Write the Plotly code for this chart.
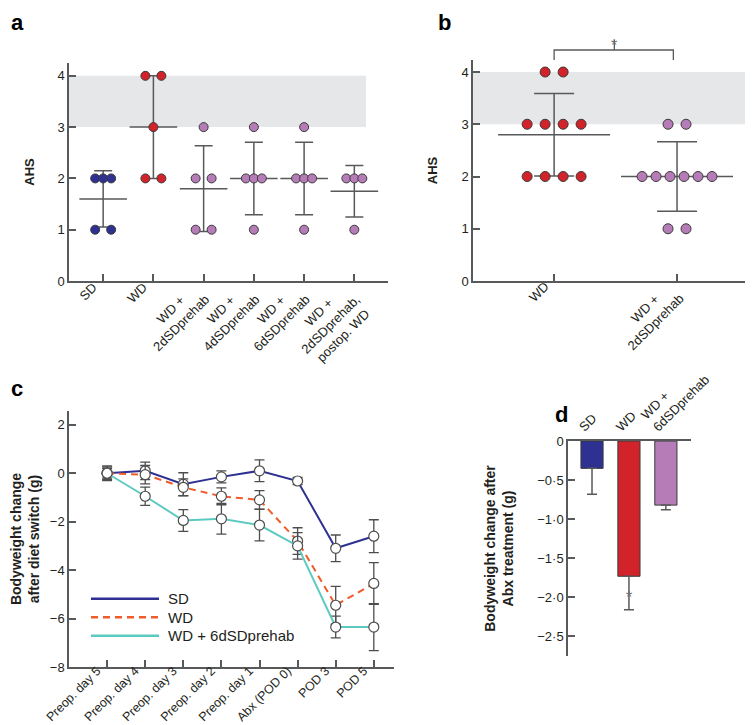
import numpy as np
import plotly.graph_objects as go

W, H = 753, 725

# ---- panel a: AHS per mouse in each diet group
groups_a = ["SD", "WD", "WD +<br>2dSDprehab", "WD +<br>4dSDprehab",
            "WD +<br>6dSDprehab", "WD +<br>2dSDprehab,<br>postop. WD"]
ahs_sd = [2, 2, 2, 1, 1]
ahs_wd = [4, 4, 3, 2, 2]
ahs_wd_2d = [3, 2, 2, 1, 1]
ahs_wd_4d = [3, 2, 2, 2, 1]
ahs_wd_6d = [3, 2, 2, 2, 1]
ahs_wd_2d_postop = [2, 2, 2, 1]

# ---- panel b: pooled WD vs WD + 2dSDprehab
groups_b = ["WD", "WD +<br>2dSDprehab"]
ahs_b_wd = [4, 4, 3, 3, 3, 3, 2, 2, 2, 2]
ahs_b_prehab = [3, 3, 2, 2, 2, 2, 2, 2, 1, 1]

# ---- panel c: bodyweight change after diet switch (g), mean and error
days = ["Preop. day 5", "Preop. day 4", "Preop. day 3", "Preop. day 2",
        "Preop. day 1", "Abx (POD 0)", "POD 3", "POD 5"]
bw_sd = [0.0, 0.1, -0.45, -0.15, 0.1, -0.32, -3.1, -2.6]
bw_sd_err = [0.3, 0.36, 0.47, 0.25, 0.45, 0.15, 0.55, 0.68]
bw_wd = [0.0, -0.06, -0.58, -0.95, -1.1, -2.8, -5.45, -4.55]
bw_wd_err = [0.25, 0.38, 0.35, 0.35, 0.38, 0.55, 0.78, 0.86]
bw_6d = [0.0, -0.95, -1.95, -1.88, -2.14, -3.0, -6.35, -6.35]
bw_6d_err = [0.2, 0.38, 0.45, 0.63, 0.65, 0.55, 0.45, 0.97]

# ---- panel d: bodyweight change after Abx treatment (g)
groups_d = ["SD", "WD", "WD +<br>6dSDprehab"]
abx_change = [-0.35, -1.73, -0.82]
abx_err = [0.33, 0.43, 0.06]
d_ticks = [0, -0.5, -1.0, -1.5, -2.0, -2.5]

NAVY = "#2e3192"
RED = "#d2232a"
PURPLE = "#b67cb7"
ORANGE = "#f15a29"
TEAL = "#5ccac0"
AX = "#58595b"
TXT = "#231f20"
EDGE = "#3a3a3a"
FONT = "Liberation Sans, Arial, sans-serif"


def xp(px):
    return px / W


def yp(py):
    return 1 - py / H


def swarm(values, center, step_px, spread_px, px_per_unit):
    # spread identical scores sideways, like a column scatter plot
    xs, ys = [], []
    for v in sorted(set(values), reverse=True):
        k = values.count(v)
        step = step_px if k == 1 else min(step_px, spread_px / (k - 1))
        for i in range(k):
            xs.append(center + (i - (k - 1) / 2) * step / px_per_unit)
            ys.append(v)
    return xs, ys


def centred(label):
    # angled tick labels are right aligned; pad short lines so they sit centred
    lines = label.split("<br>")
    longest = max(len(s) for s in lines)
    return "<br>".join(s + "\u00a0" * round(0.9 * (longest - len(s))) for s in lines)


fig = go.Figure()

# ---------------- panel a
ahs_a = [ahs_sd, ahs_wd, ahs_wd_2d, ahs_wd_4d, ahs_wd_6d, ahs_wd_2d_postop]
colors_a = [NAVY, RED, PURPLE, PURPLE, PURPLE, PURPLE]
fig.add_trace(go.Scatter(
    x=list(range(len(groups_a))), y=[np.mean(v) for v in ahs_a],
    mode="markers",
    marker=dict(symbol="line-ew", size=34, line=dict(color=AX, width=1.5)),
    error_y=dict(type="data", array=[np.std(v, ddof=1) for v in ahs_a],
                 color=AX, thickness=1.5, width=9),
    xaxis="x", yaxis="y"))
for i, (vals, col) in enumerate(zip(ahs_a, colors_a)):
    xs, ys = swarm(vals, i, 16, 16, 50.3)
    fig.add_trace(go.Scatter(
        x=xs, y=ys, mode="markers",
        marker=dict(size=9, color=col, line=dict(color=EDGE, width=1)),
        xaxis="x", yaxis="y"))

# ---------------- panel b
ahs_b = [ahs_b_wd, ahs_b_prehab]
fig.add_trace(go.Scatter(
    x=[0, 1], y=[np.mean(v) for v in ahs_b],
    mode="markers",
    marker=dict(symbol="line-ew", size=80, line=dict(color=AX, width=1.5)),
    error_y=dict(type="data", array=[np.std(v, ddof=1) for v in ahs_b],
                 color=AX, thickness=1.5, width=20),
    xaxis="x2", yaxis="y2"))
for i, (vals, col) in enumerate(zip(ahs_b, [RED, PURPLE])):
    xs, ys = swarm(vals, i, 18, 70, 123)
    fig.add_trace(go.Scatter(
        x=xs, y=ys, mode="markers",
        marker=dict(size=10, color=col, line=dict(color=EDGE, width=1)),
        xaxis="x2", yaxis="y2"))

# ---------------- panel c
series_c = [("SD", bw_sd, bw_sd_err, NAVY, "solid"),
            ("WD", bw_wd, bw_wd_err, ORANGE, "7px,5px"),
            ("WD + 6dSDprehab", bw_6d, bw_6d_err, TEAL, "solid")]
for name, vals, errs, col, dash in series_c:
    fig.add_trace(go.Scatter(
        x=days, y=vals, name=name, mode="lines+markers",
        line=dict(color=col, width=2, dash=dash),
        marker=dict(size=10, color="white", line=dict(color="#4d4d4d", width=1.2)),
        error_y=dict(type="data", array=errs, color="#4d4d4d", thickness=1.3, width=5),
        xaxis="x3", yaxis="y3"))

# ---------------- panel d
fig.add_trace(go.Bar(
    x=groups_d, y=abx_change, width=0.6,
    marker=dict(color=[NAVY, RED, PURPLE], line=dict(color=EDGE, width=1)),
    error_y=dict(type="data", symmetric=False, array=[0] * len(abx_err),
                 arrayminus=abx_err, color=AX, thickness=1.5, width=5),
    xaxis="x4", yaxis="y4"))

axis_style = dict(showline=True, linecolor=AX, linewidth=1.5, ticks="inside",
                  ticklen=7, tickwidth=1.5, tickcolor=AX, showgrid=False,
                  zeroline=False, automargin=False,
                  tickfont=dict(family=FONT, size=13, color=TXT))
title_font = dict(family=FONT, size=14, color=TXT)

fig.update_layout(
    width=W, height=H, showlegend=False, plot_bgcolor="white",
    paper_bgcolor="white", margin=dict(l=0, r=0, t=0, b=0),
    font=dict(family=FONT, color=TXT),
    xaxis=dict(axis_style, domain=[xp(61), xp(380)], anchor="y",
               range=[-0.68, 5.67], tickvals=list(range(len(groups_a))),
               ticktext=[centred(g) for g in groups_a], tickangle=-45,
               ticklabelshift=-10, ticklabelstandoff=-8),
    yaxis=dict(axis_style, domain=[yp(273), yp(55)], anchor="x",
               range=[0, 4.25], tickvals=[0, 1, 2, 3, 4],
               title=dict(text="<b>AHS</b>", font=dict(title_font, size=13), standoff=20)),
    xaxis2=dict(axis_style, domain=[xp(465), xp(752)], anchor="y2",
                range=[-0.66, 1.675], tickvals=[0, 1],
                ticktext=[centred(g) for g in groups_b],
                tickangle=-45, ticklabelshift=-9, ticklabelstandoff=-9),
    yaxis2=dict(axis_style, domain=[yp(273), yp(52)], anchor="x2",
                range=[0, 4.23], tickvals=[0, 1, 2, 3, 4],
                title=dict(text="<b>AHS</b>", font=dict(title_font, size=13), standoff=21)),
    xaxis3=dict(axis_style, domain=[xp(61), xp(386)], anchor="y3",
                range=[-1, 7.53], tickangle=-45,
                tickfont=dict(family=FONT, size=12.5, color=TXT),
                ticklabelshift=-10, ticklabelstandoff=-10),
    yaxis3=dict(axis_style, domain=[yp(659), yp(403)], anchor="x3",
                range=[-8, 2.57], tickvals=[-8, -6, -4, -2, 0, 2],
                title=dict(text="<b>Bodyweight change<br>after diet switch (g)</b>",
                           font=title_font, standoff=20)),
    xaxis4=dict(axis_style, domain=[xp(560), xp(683)], anchor="y4",
                side="top", ticks="", range=[-0.65, 2.68], tickangle=-45,
                ticklabelshift=-12),
    yaxis4=dict(axis_style, domain=[yp(648), yp(433)], anchor="x4",
                range=[-2.75, 0], tickvals=d_ticks,
                ticktext=["0" if t == 0 else "\u2212" + f"{abs(t):.1f}".replace(".", "\u00b7")
                          for t in d_ticks],
                title=dict(text="<b>Bodyweight change after<br>Abx treatment (g)</b>",
                           font=title_font, standoff=20)),
)

# grey reference band (AHS 3-4)
fig.add_shape(type="rect", xref="x domain", yref="y", x0=0, x1=0.931, y0=3, y1=4,
              fillcolor="#e6e7e8", line_width=0, layer="below")
fig.add_shape(type="rect", xref="x2 domain", yref="y2", x0=0, x1=1, y0=3, y1=4,
              fillcolor="#e6e7e8", line_width=0, layer="below")

# significance bracket in panel b
fig.add_shape(type="path", xref="x2", yref="paper",
              path=f"M0,{yp(52)} L0,{yp(42)} L0.97,{yp(42)} L0.97,{yp(52)} M0.49,{yp(42)} L0.49,{yp(32)}",
              line=dict(color=AX, width=1.3))

star = dict(text="*", showarrow=False, font=dict(family=FONT, size=16, color="#6d6e71"))
fig.add_annotation(star, x=1, y=4.3, xref="x", yref="y")
fig.add_annotation(star, x=0.49, y=yp(27), xref="x2", yref="paper")
fig.add_annotation(star, x="WD", y=-2.0, xref="x4", yref="y4")

# legend of panel c
for i, (name, vals, errs, col, dash) in enumerate(series_c):
    ly = yp(590.7 + i * 18.5)
    fig.add_shape(type="line", xref="paper", yref="paper", x0=xp(83), x1=xp(151),
                  y0=ly, y1=ly, line=dict(color=col, width=2.5, dash=dash))
    fig.add_annotation(text=name, x=xp(158), y=ly, xref="paper", yref="paper",
                       xanchor="left", yanchor="middle", showarrow=False,
                       font=dict(family=FONT, size=15, color=TXT))

# panel letters
for letter, px, py in [("a", 1, 0), ("b", 428, 0), ("c", 1, 366), ("d", 545, 392)]:
    fig.add_annotation(text=f"<b>{letter}</b>", x=xp(px), y=yp(py), xref="paper",
                       yref="paper", xanchor="left", yanchor="top", showarrow=False,
                       font=dict(family=FONT, size=22, color="black"))

fig.write_html("out.html")
